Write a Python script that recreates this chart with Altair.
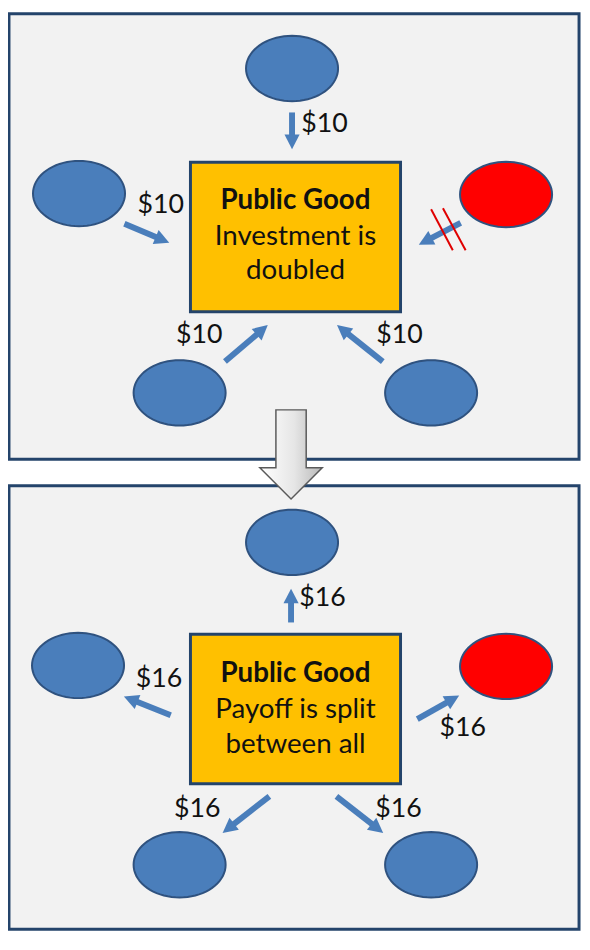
import altair as alt
import pandas as pd
import numpy as np

# ---------------- diagram data (image pixel coordinates) ----------------
panel_x0 = [9, 9]
panel_x1 = [587, 587]
panel_y0 = [9, 492]
panel_y1 = [465, 946]

box_x0 = [193, 193]
box_x1 = [406, 406]
box_y0 = [161, 644]
box_y1 = [314, 797]

box_lines = ["Public Good", "Investment is", "doubled",
             "Public Good", "Payoff is split", "between all"]
box_line_y = [201, 238, 272, 685, 722, 757]
box_line_bold = [True, False, False, True, False, False]

player_x = [296, 80, 513, 182, 437, 296, 79, 513, 182, 437]
player_y = [65, 193, 194, 397, 397, 550, 676, 677, 880, 880]
player_role = ["cooperator", "cooperator", "defector", "cooperator", "cooperator",
               "cooperator", "cooperator", "defector", "cooperator", "cooperator"]

arrow_x0 = [296, 126, 467, 228, 388, 295, 173, 423, 273, 341]
arrow_y0 = [110, 224, 223, 365, 365, 632, 727, 731, 810, 810]
arrow_x1 = [296, 171, 425, 271, 342, 295, 126, 465, 226, 388]
arrow_y1 = [147, 243, 245, 328, 328, 598, 708, 707, 847, 847]

label_text = ["$10", "$10", "$10", "$10", "$16", "$16", "$16", "$16", "$16"]
label_x = [329, 163, 202, 405, 327, 161, 469, 200, 404]
label_y = [122, 205, 338, 338, 607, 690, 740, 823, 823]

hatch_x0 = [437, 449]
hatch_y0 = [209, 208]
hatch_x1 = [459, 472]
hatch_y1 = [251, 251]

transition_x = [295]
transition_y = [460]

# ---------------- styles ----------------
FONT = "Lato"
BLUE = "#4A7EBB"
BLUE_EDGE = "#2F527F"
NAVY = "#24446B"
ORANGE = "#FFC000"
RED = "#FF0000"

xs = alt.Scale(domain=[8, 590], nice=False, zero=False)
ys = alt.Scale(domain=[8, 948], nice=False, zero=False, reverse=True)


def X(f):
    return alt.X(f, type="quantitative", scale=xs, axis=None)


def Y(f):
    return alt.Y(f, type="quantitative", scale=ys, axis=None)


# shapes (unit square -1..1)
th = np.linspace(0, 2 * np.pi, 73)[:-1]
ellipse_path = "M" + " L".join(f"{np.cos(t):.4f},{0.71 * np.sin(t):.4f}" for t in th) + " Z"
head_path = "M0,-1 L0.9,0.75 L-0.9,0.75 Z"
big_arrow_path = ("M-0.34,-1 L0.34,-1 L0.34,0.30 L0.70,0.30 L0,1 "
                  "L-0.70,0.30 L-0.34,0.30 Z")

# ---------------- tables ----------------
panels = pd.DataFrame({"x": panel_x0, "x2": panel_x1, "y": panel_y0, "y2": panel_y1})
boxes = pd.DataFrame({"x": box_x0, "x2": box_x1, "y": box_y0, "y2": box_y1})
lines = pd.DataFrame({"text": box_lines, "y": box_line_y, "bold": box_line_bold})
lines["x"] = [(box_x0[0] + box_x1[0]) / 2] * len(lines)
players = pd.DataFrame({"x": player_x, "y": player_y, "role": player_role})

arr = pd.DataFrame({"x0": arrow_x0, "y0": arrow_y0, "x1": arrow_x1, "y1": arrow_y1})
dx = arr.x1 - arr.x0
dy = arr.y1 - arr.y0
ln = np.sqrt(dx ** 2 + dy ** 2)
ux, uy = dx / ln, dy / ln
arr["sx2"] = arr.x1 - 11 * ux
arr["sy2"] = arr.y1 - 11 * uy
arr["hx"] = arr.x1 - 8 * ux
arr["hy"] = arr.y1 - 8 * uy
arr["angle"] = np.degrees(np.arctan2(dx, -dy)) % 360

labels = pd.DataFrame({"text": label_text, "x": label_x, "y": label_y})
hatch = pd.DataFrame({"x": hatch_x0, "y": hatch_y0, "x2": hatch_x1, "y2": hatch_y1})
transition = pd.DataFrame({"x": transition_x, "y": transition_y})

# ---------------- layers ----------------
panel_layer = alt.Chart(panels).mark_rect(
    fill="#F2F2F2", stroke=NAVY, strokeWidth=3
).encode(x=X("x"), x2="x2", y=Y("y"), y2="y2")

big_arrow = alt.Chart(transition).mark_point(
    shape=big_arrow_path, size=8100, filled=True, opacity=1,
    fill=alt.LinearGradient(gradient="linear", x1=0, x2=1, y1=0, y2=0,
                            stops=[alt.GradientStop(color="#FFFFFF", offset=0),
                                   alt.GradientStop(color="#E6E6E6", offset=0.55),
                                   alt.GradientStop(color="#B8B8B8", offset=1)]),
    stroke="#5A5A5A", strokeWidth=1.5
).encode(x=X("x"), y=Y("y"))

box_layer = alt.Chart(boxes).mark_rect(
    fill=ORANGE, stroke=NAVY, strokeWidth=3
).encode(x=X("x"), x2="x2", y=Y("y"), y2="y2")

player_layer = alt.Chart(players).mark_point(
    shape=ellipse_path, size=93 * 93, filled=True, opacity=1,
    stroke=BLUE_EDGE, strokeWidth=2
).encode(
    x=X("x"), y=Y("y"),
    fill=alt.Fill("role:N", scale=alt.Scale(domain=["cooperator", "defector"],
                                           range=[BLUE, RED]), legend=None)
)

shaft_layer = alt.Chart(arr).mark_rule(
    color=BLUE, strokeWidth=6, strokeCap="butt"
).encode(x=X("x0"), y=Y("y0"), x2="sx2", y2="sy2")

head_layer = alt.Chart(arr).mark_point(
    shape=head_path, size=289, filled=True, opacity=1, color=BLUE
).encode(x=X("hx"), y=Y("hy"), angle=alt.Angle("angle:Q", scale=None))

hatch_layer = alt.Chart(hatch).mark_rule(
    color="#E00000", strokeWidth=2
).encode(x=X("x"), y=Y("y"), x2="x2", y2="y2")

bold_text = alt.Chart(lines[lines.bold]).mark_text(
    font=FONT, fontSize=28, fontWeight="bold", color="#111111",
    align="center", baseline="middle"
).encode(x=X("x"), y=Y("y"), text="text:N")

plain_text = alt.Chart(lines[~lines.bold]).mark_text(
    font=FONT, fontSize=28, color="#111111", align="center", baseline="middle"
).encode(x=X("x"), y=Y("y"), text="text:N")

label_layer = alt.Chart(labels).mark_text(
    font=FONT, fontSize=27, color="#111111", align="center", baseline="middle"
).encode(x=X("x"), y=Y("y"), text="text:N")

chart = alt.layer(
    panel_layer, big_arrow, box_layer, player_layer, shaft_layer, head_layer,
    hatch_layer, bold_text, plain_text, label_layer
).properties(
    width=580, height=928, padding=0, autosize=alt.AutoSizeParams(type="none"),
    background="white"
).configure_view(stroke=None)

chart.save("out.html", embed_options={"renderer": "svg", "actions": False})
